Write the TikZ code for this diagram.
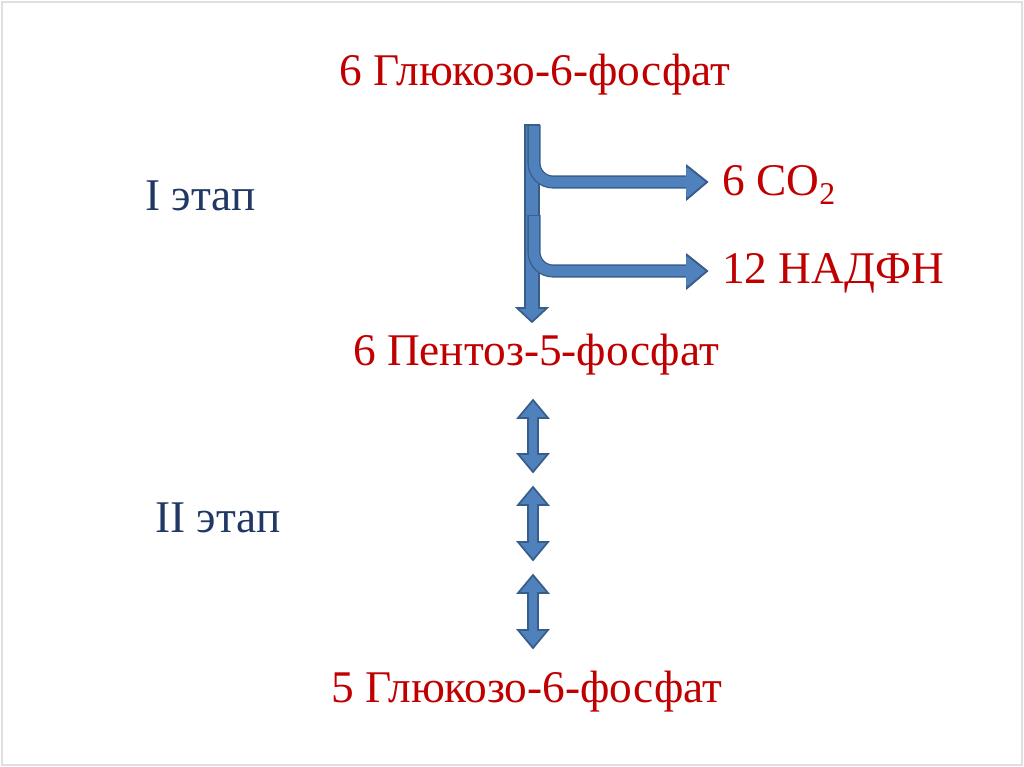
\documentclass[tikz,border=0pt]{standalone}
\usepackage{fontspec}
\setmainfont{Liberation Serif}
\begin{document}
\begin{tikzpicture}[x=0.75pt,y=-0.75pt]
\definecolor{af}{RGB}{79,129,189}\definecolor{ad}{RGB}{56,93,138}
\definecolor{rt}{RGB}{192,0,0}\definecolor{st}{RGB}{31,56,100}
\tikzset{arr/.style={fill=af,draw=ad,line width=1.3pt},
  lbl/.style={text=rt,font=\fontsize{34}{38}\selectfont,inner sep=0},
  stage/.style={text=st,font=\fontsize{34}{38}\selectfont,inner sep=0}}
\useasboundingbox (0,0) rectangle (1024,767);
\draw[gray!25,line width=1pt] (2,2) rectangle (1022,765);
\node[lbl] (g1) at (535,75) {6 Глюкозо-6-фосфат};
\node[lbl,anchor=west] (co) at (722,185) {6 CO\textsubscript{2}};
\node[lbl,anchor=west] (nad) at (722,273) {12 НАДФН};
\node[lbl] (p5) at (536,355) {6 Пентоз-5-фосфат};
\node[lbl] (g2) at (527,692) {5 Глюкозо-6-фосфат};
\node[stage,anchor=west] (s1) at (145,196) {I этап};
\node[stage,anchor=west] (s2) at (155,518) {II этап};
% main down arrow
\draw[arr] (525,125) -- (539,125) -- (539,308) -- (547,308) -- (532,322) -- (517,308) -- (525,308) -- cycle;
% branches
\foreach \yt/\yh in {125/182,215/271}{
  \draw[ad,line width=9.8pt] (534,\yt) -- (534,\yh-19) arc[start angle=180,end angle=90,radius=19] -- (689,\yh);
  \draw[af,line width=7.8pt] (534,\yt+0.8) -- (534,\yh-19) arc[start angle=180,end angle=90,radius=19] -- (689,\yh);
  \draw[arr] (687,\yh-16) -- (707,\yh) -- (687,\yh+17) -- cycle;
}
\fill[af] (686,168) rectangle (690,196);
\fill[af] (686,257) rectangle (690,285);
\draw[arr] (687,166) -- (707,182) -- (687,199);
\draw[arr] (687,255) -- (707,271) -- (687,288);
% double arrows
\foreach \a/\b in {400/472,487/560,575/648}{
  \draw[arr] (533,\a) -- (548,\a+18) -- (538,\a+18) -- (538,\b-18) -- (548,\b-18) -- (533,\b) -- (518,\b-18) -- (528,\b-18) -- (528,\a+18) -- (518,\a+18) -- cycle;
}
\end{tikzpicture}
\end{document}
